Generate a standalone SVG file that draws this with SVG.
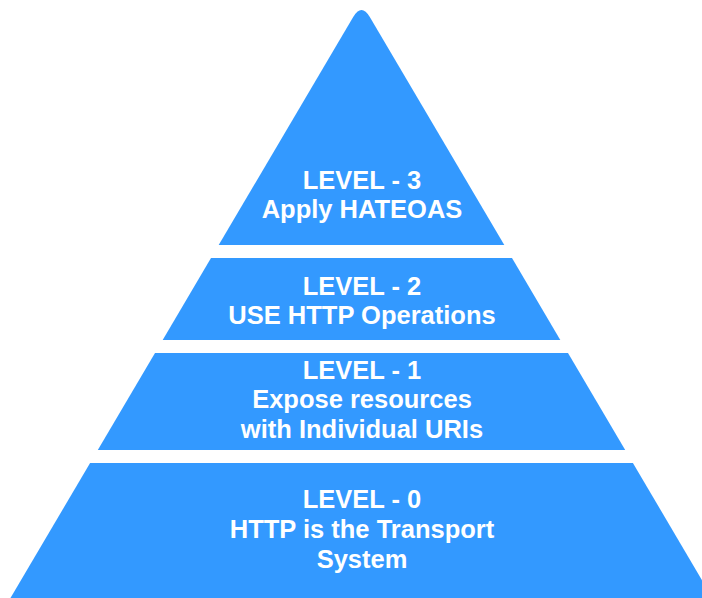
<svg xmlns="http://www.w3.org/2000/svg" width="702" height="598" viewBox="0 0 702 598">
  <style>
    .band { fill: #3399ff; }
    .label { fill: #ffffff; font-family: "Liberation Sans", Arial, sans-serif; font-weight: bold; font-size: 25.5px; text-anchor: middle; }
  </style>
  <rect x="0" y="0" width="702" height="598" fill="#ffffff"/>
  <g id="level-3">
    <path class="band" d="M218.7,245 L353.2,17 Q361.5,3 369.8,17 L504.3,245 Z"/>
    <text class="label" x="362" y="189">LEVEL - 3</text>
    <text class="label" x="362" y="218">Apply HATEOAS</text>
  </g>
  <g id="level-2">
    <path class="band" d="M211.0,258 L512.0,258 L560.3,340 L162.7,340 Z"/>
    <text class="label" x="362" y="295">LEVEL - 2</text>
    <text class="label" x="362" y="324">USE HTTP Operations</text>
  </g>
  <g id="level-1">
    <path class="band" d="M155.0,353 L568.0,353 L625.2,450 L97.8,450 Z"/>
    <text class="label" x="362" y="379">LEVEL - 1</text>
    <text class="label" x="362" y="408">Expose resources</text>
    <text class="label" x="362" y="438">with Individual URIs</text>
  </g>
  <g id="level-0">
    <path class="band" d="M90.1,463 L632.9,463 L719.6,610 L3.4,610 Z"/>
    <text class="label" x="362" y="508">LEVEL - 0</text>
    <text class="label" x="362" y="538">HTTP is the Transport</text>
    <text class="label" x="362" y="568">System</text>
  </g>
  <g id="connectors"/>
</svg>
